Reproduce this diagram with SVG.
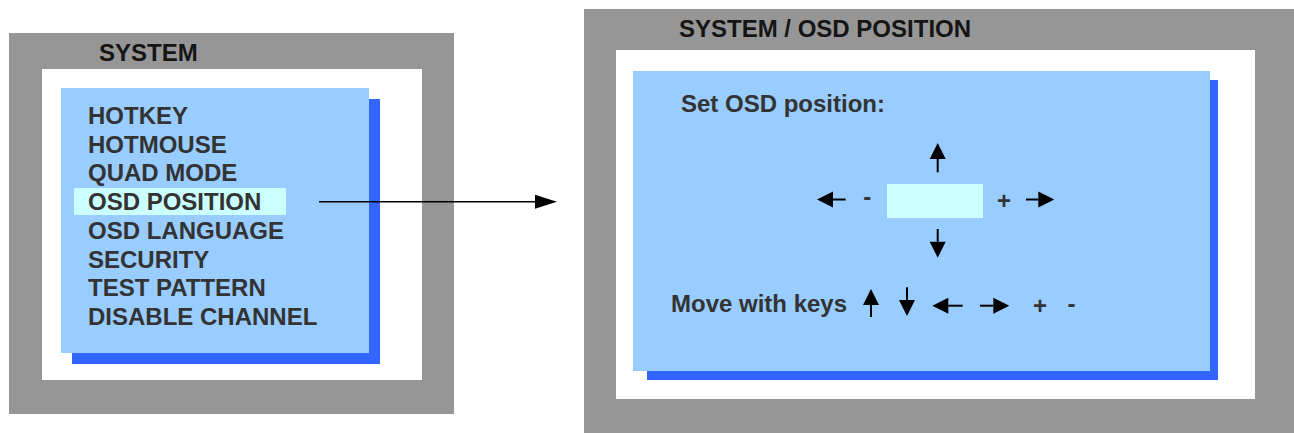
<svg xmlns="http://www.w3.org/2000/svg" width="1294" height="433" viewBox="0 0 1294 433">
  <style>
    .frame { fill: #969696; }
    .inner { fill: #ffffff; }
    .shadow { fill: #3366ff; }
    .panel { fill: #99ccff; }
    .hl { fill: #ccffff; }
    .title { font-family: "Liberation Sans", Arial, sans-serif; font-weight: bold; font-size: 24px; fill: #151515; }
    .txt { font-family: "Liberation Sans", Arial, sans-serif; font-weight: bold; font-size: 24px; fill: #333333; }
    .arr { stroke: #000000; stroke-width: 2; fill: none; marker-end: url(#kh); }
    .conn { stroke: #000000; stroke-width: 1.5; fill: none; marker-end: url(#ch); }
  </style>
  <defs>
    <marker id="kh" markerUnits="userSpaceOnUse" markerWidth="16" markerHeight="16" refX="0" refY="8" orient="auto" overflow="visible">
      <path d="M0,0 L16,8 L0,16 Z" fill="#000000"/>
    </marker>
    <marker id="ch" markerUnits="userSpaceOnUse" markerWidth="22" markerHeight="14" refX="0" refY="7" orient="auto" overflow="visible">
      <path d="M0,0 L22,7 L0,14 Z" fill="#000000"/>
    </marker>
  </defs>

  <g id="system-menu">
    <rect class="frame" x="9" y="33" width="445" height="381"/>
    <rect class="inner" x="42" y="69" width="380" height="311"/>
    <rect class="shadow" x="72" y="99" width="308" height="265"/>
    <rect class="panel" x="61" y="88" width="308" height="265"/>
    <rect class="hl" x="74" y="188" width="212" height="27"/>
    <text class="title" x="99" y="61">SYSTEM</text>
    <text class="txt" x="88" y="124">HOTKEY</text>
    <text class="txt" x="88" y="152.7">HOTMOUSE</text>
    <text class="txt" x="88" y="181.4">QUAD MODE</text>
    <text class="txt" x="88" y="210.1">OSD POSITION</text>
    <text class="txt" x="88" y="238.8">OSD LANGUAGE</text>
    <text class="txt" x="88" y="267.5">SECURITY</text>
    <text class="txt" x="88" y="296.2">TEST PATTERN</text>
    <text class="txt" x="88" y="325">DISABLE CHANNEL</text>
  </g>

  <g id="osd-position">
    <rect class="frame" x="584" y="9" width="710" height="424"/>
    <rect class="inner" x="616" y="50" width="639" height="349"/>
    <rect class="shadow" x="647" y="80" width="571" height="300"/>
    <rect class="panel" x="633" y="71" width="577" height="300"/>
    <text class="title" x="679" y="37">SYSTEM / OSD POSITION</text>
    <text class="txt" x="681" y="112">Set OSD position:</text>
    <rect class="hl" x="887" y="184" width="96" height="34"/>
    <path class="arr" d="M937.7,172.3 L937.7,159"/>
    <path class="arr" d="M845.7,199.5 L833,199.5"/>
    <path class="arr" d="M1026,199.5 L1038.3,199.5"/>
    <path class="arr" d="M937.7,229 L937.7,241.7"/>
    <text class="txt" x="867.3" y="204.8" text-anchor="middle">-</text>
    <text class="txt" x="1004" y="209.4" text-anchor="middle">+</text>
    <text class="txt" x="671" y="312">Move with keys</text>
    <path class="arr" d="M871,317 L871,305"/>
    <path class="arr" d="M907,287.3 L907,300"/>
    <path class="arr" d="M962.7,305.7 L948.3,305.7"/>
    <path class="arr" d="M980,305.7 L993.3,305.7"/>
    <text class="txt" x="1040" y="313.5" text-anchor="middle">+</text>
    <text class="txt" x="1071.5" y="311.5" text-anchor="middle">-</text>
  </g>

  <g id="connectors">
    <path class="conn" d="M319,201.7 L535,201.7"/>
  </g>
</svg>
